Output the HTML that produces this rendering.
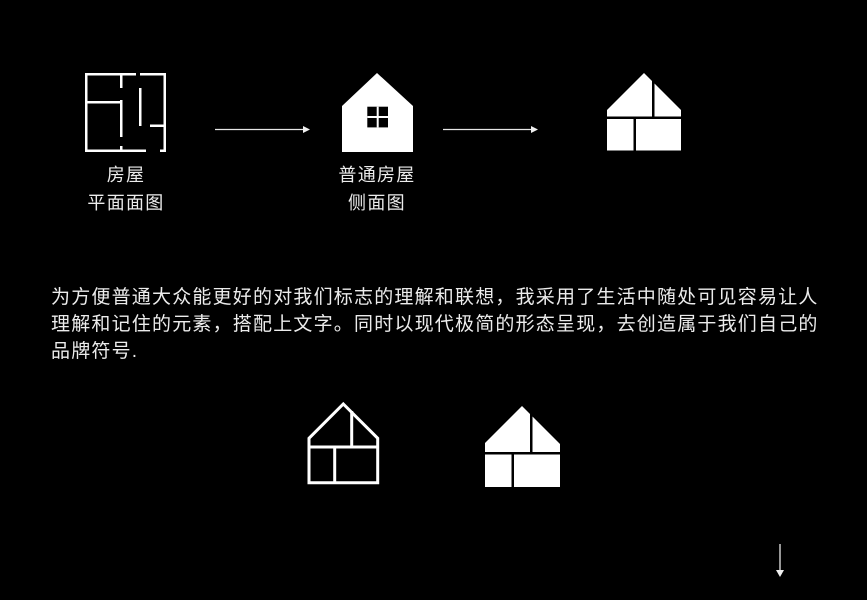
<!DOCTYPE html>
<html>
<head>
<meta charset="utf-8">
<style>
  html, body { margin: 0; padding: 0; background: #000; }
  body { width: 867px; height: 600px; position: relative; overflow: hidden; }
  svg { position: absolute; left: 0; top: 0; }
  .t { position: absolute; color: #ececec; font-family: "Liberation Sans", "Noto Sans CJK SC", sans-serif; white-space: nowrap; }
  .lbl { font-size: 18px; letter-spacing: 1.3px; line-height: 28px; text-align: center; width: 120px; }
  .p { font-size: 19px; letter-spacing: 1.2px; line-height: 28px; left: 51px; }
</style>
</head>
<body>
<svg width="867" height="600" viewBox="0 0 867 600" xmlns="http://www.w3.org/2000/svg">
  <!-- floor plan -->
  <g fill="#fff">
    <rect x="85" y="73" width="2.5" height="79"/>
    <rect x="85" y="73" width="51" height="2.5"/>
    <rect x="140" y="73" width="26" height="2.5"/>
    <rect x="163.5" y="73" width="2.5" height="79"/>
    <rect x="85" y="149.5" width="61" height="2.5"/>
    <rect x="160" y="149.5" width="6" height="2.5"/>
    <rect x="85" y="101" width="37" height="2.5"/>
    <rect x="120" y="73" width="2.5" height="15"/>
    <rect x="120" y="100" width="2.5" height="37"/>
    <rect x="120" y="146" width="2.5" height="4"/>
    <rect x="139" y="88" width="2.5" height="38"/>
    <rect x="150" y="124.5" width="16" height="2.5"/>
  </g>

  <!-- arrows -->
  <g stroke="#e6e6e6" stroke-width="1.3" fill="none">
    <line x1="215" y1="129.5" x2="304" y2="129.5"/>
    <line x1="443" y1="129.5" x2="532" y2="129.5"/>
    <line x1="780" y1="544" x2="780" y2="571"/>
  </g>
  <g fill="#f0f0f0">
    <polygon points="303,126 310,129.5 303,133"/>
    <polygon points="531,126 538,129.5 531,133"/>
    <polygon points="776,570 780,577 784,570"/>
  </g>

  <!-- side view house -->
  <polygon fill="#fff" points="377,73 413,106 413,152 342,152 342,106"/>
  <rect x="367.3" y="106.7" width="20.7" height="20.7" fill="#000"/>
  <rect x="376.7" y="106.7" width="2" height="20.7" fill="#fff"/>
  <rect x="367.3" y="116" width="20.7" height="2" fill="#fff"/>

  <!-- top-right filled house -->
  <g fill="#fff">
    <polygon points="607,110 644,73 652,81 652,116.5 607,116.5"/>
    <polygon points="654.5,83.5 681,110 681,116.5 654.5,116.5"/>
    <rect x="607" y="119" width="26.5" height="31.5"/>
    <rect x="636" y="119" width="45" height="31.5"/>
  </g>

  <!-- bottom outline house -->
  <g stroke="#fff" stroke-width="3" fill="none" stroke-linejoin="miter">
    <path d="M309,482.7 L309,438.3 L343.3,404 L377.7,438.3 L377.7,482.7 Z"/>
    <line x1="309" y1="447" x2="377.7" y2="447"/>
    <line x1="351.7" y1="411" x2="351.7" y2="447"/>
    <line x1="334.7" y1="447" x2="334.7" y2="482.7"/>
  </g>

  <!-- bottom filled house -->
  <g fill="#fff">
    <polygon points="485,443 522,406 530,414 530,452 485,452"/>
    <polygon points="532.5,416.5 560,444 560,452 532.5,452"/>
    <rect x="485" y="454.5" width="26.5" height="32.5"/>
    <rect x="514" y="454.5" width="46" height="32.5"/>
  </g>
</svg>

<div class="t lbl" style="left:66px; top:161px;">房屋</div>
<div class="t lbl" style="left:66px; top:189px;">平面面图</div>
<div class="t lbl" style="left:317px; top:161px;">普通房屋</div>
<div class="t lbl" style="left:317px; top:189px;">侧面图</div>

<div class="t p" style="top:284px;">为方便普通大众能更好的对我们标志的理解和联想，我采用了生活中随处可见容易让人</div>
<div class="t p" style="top:311px;">理解和记住的元素，搭配上文字。同时以现代极简的形态呈现，去创造属于我们自己的</div>
<div class="t p" style="top:338px;">品牌符号.</div>
</body>
</html>
